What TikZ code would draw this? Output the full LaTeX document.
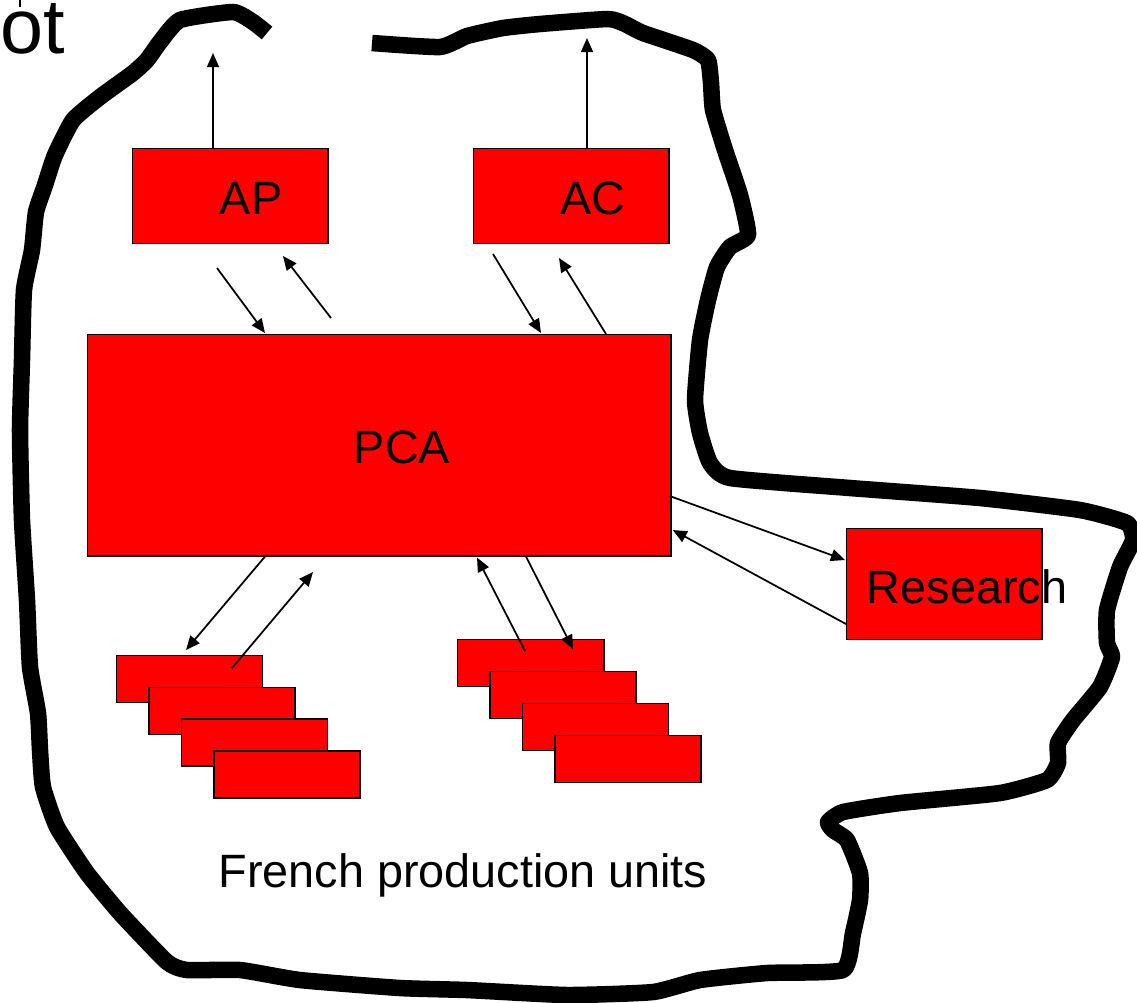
\documentclass[tikz,border=0pt]{standalone}
\usepackage{fontspec}
\setmainfont{Liberation Sans}
\usepackage{tikz}
\usetikzlibrary{arrows.meta,positioning,calc}

\begin{document}
\begin{tikzpicture}[x=0.01cm,y=-0.01cm]
      \tikzstyle{box}=[rectangle,draw=black,fill=red,line width=0.4pt,inner sep=0pt,anchor=north west]
      \tikzstyle{unit}=[box,minimum width=1.46cm,minimum height=0.47cm]
      \tikzstyle{lbl}=[anchor=base,inner sep=0pt,font=\fontsize{13.3}{16}\selectfont]
      \tikzstyle{ar}=[line width=0.5pt,-{Triangle[length=4pt,width=3.4pt]}]
      \tikzstyle{border}=[line width=4.7pt,line join=round]
      \useasboundingbox (0,0) rectangle (1137,1002);

      % outline
      \draw[border] plot[smooth,tension=0.3] coordinates {
        (372,43) (440,47) (467,36) (503,28) (540,24) (608,19) (625,24) (643,33)
        (693,50) (708,60) (711,83) (713,110) (725,150) (740,195) (748,235)
        (730,247) (717,267) (708,300) (700,340) (695,400) (700,433) (710,463)
        (730,478) (850,488) (980,498) (1080,510) (1127,523) (1133,540)
        (1120,567) (1107,610) (1107,643) (1112,657) (1100,687) (1073,720)
        (1058,743) (1058,763) (1047,780) (1000,793) (900,803) (843,812)
        (828,822) (833,830) (847,840) (860,873) (860,900) (853,933) (843,970)
        (767,973) (700,980) (653,992) (567,995) (467,990) (400,988) (300,980)
        (240,970) (187,970) (167,962) (120,913) (87,873) (57,827) (43,787)
        (40,750) (38,713) (30,667) (27,600) (22,520) (20,430) (22,360)
        (24,290) (32,250) (36,212) (45,185) (55,155) (73,120) (100,97)
        (133,73) (147,60) (160,42) (180,20) (233,12) (253,22) (267,33)};

      % boxes
      \node[box,minimum width=1.95cm,minimum height=0.95cm] (ap) at (132,148) {};
      \node[box,minimum width=1.95cm,minimum height=0.95cm] (ac) at (473,148) {};
      \node[box,minimum width=5.83cm,minimum height=2.21cm] (pca) at (87,334) {};
      \node[box,minimum width=1.95cm,minimum height=1.11cm] (res) at (846,528) {};
      \foreach \i in {0,...,3} {
        \node[unit] (lu\i) at (116+32.4*\i,655+31.7*\i) {};
        \node[unit] (ru\i) at (457+32.4*\i,639+32*\i) {};
      }

      % texts
      \node[lbl] (aptext) at (251,214) {AP};
      \node[lbl] (actext) at (593,214) {AC};
      \node[lbl] (pcatext) at (402,463) {PCA};
      \node[lbl] (restext) at (967,603) {Research};
      \node[lbl] (frtext) at (463,887) {French production units};
      \node[anchor=base west,inner sep=0pt,font=\fontsize{22}{25}\selectfont] (ottext) at (0,53) {ot};

      % free ends
      \coordinate (apup) at (213,53);
      \coordinate (acup) at (587,38);
      \coordinate (topstub) at (20,0);
      \coordinate (a1) at (217,268);
      \coordinate (a2s) at (331,318);
      \coordinate (a2e) at (283,256);
      \coordinate (c1) at (493,254);
      \coordinate (c2) at (559,258);
      \coordinate (l1) at (186,650);
      \coordinate (l2) at (313,572);

      % arrows
      \draw[ar] (apup |- ap.north) -- (apup);
      \draw[ar] (acup |- ac.north) -- (acup);
      \draw[line width=0.5pt] (topstub) -- ++(0,7);
      \draw[ar] (a1) -- ($(pca.north west)+(178,-1)$);
      \draw[ar] (a2s) -- (a2e);
      \draw[ar] (c1) -- ($(pca.north west)+(454,-1)$);
      \draw[ar] ($(pca.north west)+(519,0)$) -- (c2);
      \draw[ar] ($(pca.south west)+(178,0)$) -- (l1);
      \draw[ar] ($(lu0.north west)+(116,13)$) -- (l2);
      \draw[ar] ($(ru0.north west)+(68,12)$) -- ($(pca.south west)+(390,1)$);
      \draw[ar] ($(pca.south west)+(439,0)$) -- ($(ru0.north west)+(116,10)$);
      \draw[ar] ($(pca.north east)+(-2,162)$) -- ($(res.north west)+(-1,32)$);
      \draw[ar] ($(res.north west)+(0,96)$) -- ($(pca.north east)+(1,196)$);
    \end{tikzpicture}
\end{document}
